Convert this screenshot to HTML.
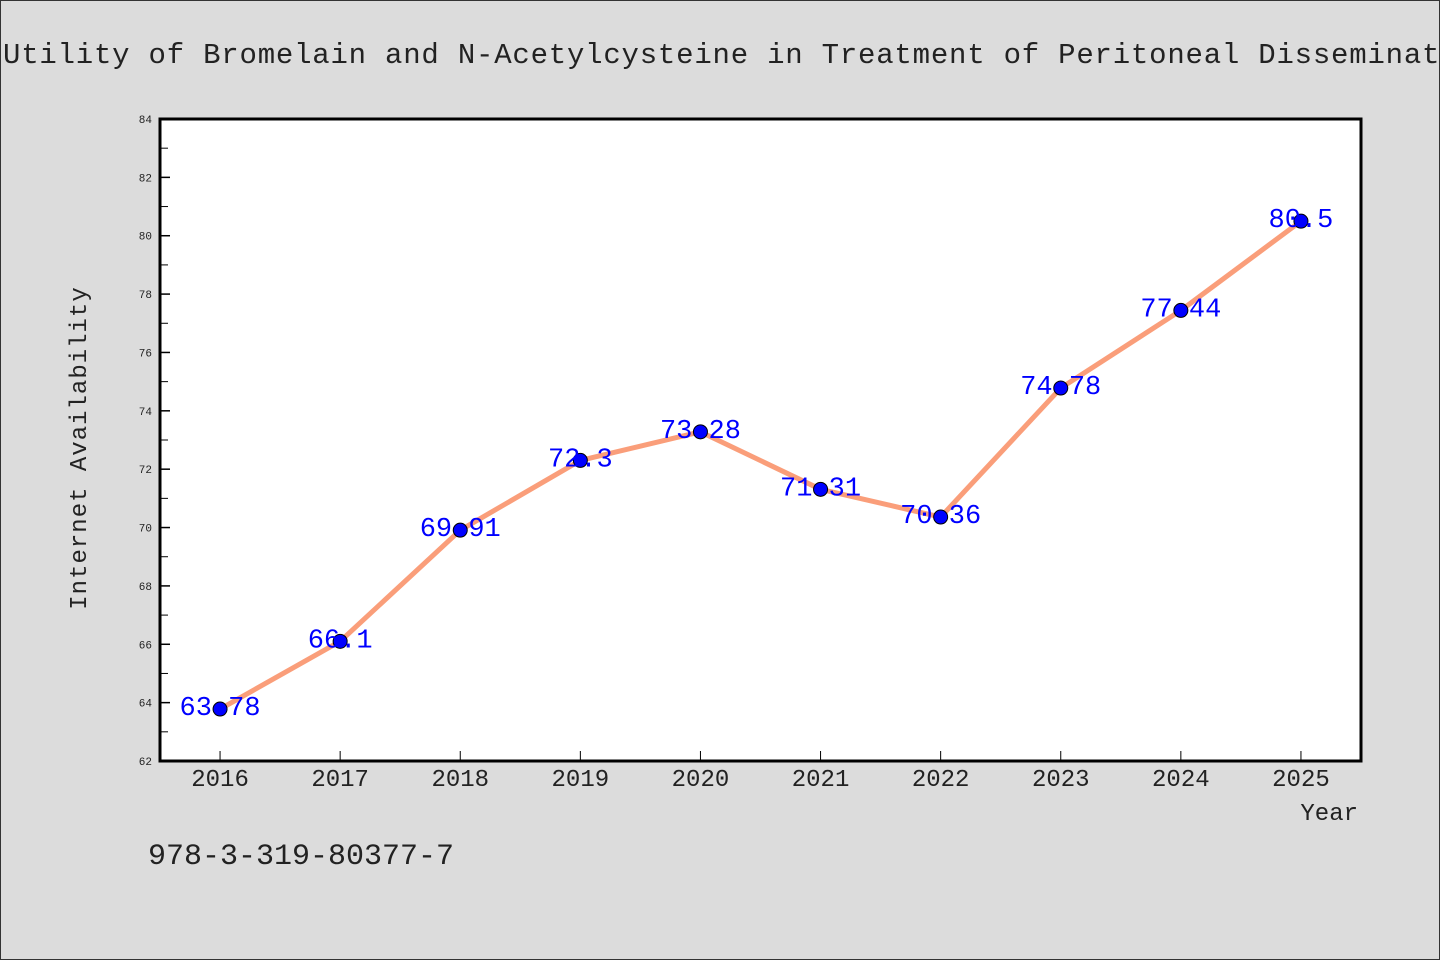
<!DOCTYPE html>
<html><head><meta charset="utf-8"><style>
html,body{margin:0;padding:0;background:#dcdcdc;}
svg{display:block;font-family:"WenQuanYi Zen Hei Mono","WenQuanYi Zen Hei","Liberation Mono",monospace;}
</style></head><body>
<svg id="chart" width="1440" height="960">
<rect x="0.5" y="0.5" width="1439" height="959" fill="#dcdcdc" stroke="#333"/>
<text x="3" y="63" font-size="29" fill="#222" textLength="1491" lengthAdjust="spacing">Utility of Bromelain and N-Acetylcysteine in Treatment of Peritoneal Dissemination</text>
<rect x="160" y="119" width="1201" height="642" fill="#fff"/>
<g id="axes"></g>
<g id="series"></g>
<rect x="160" y="119" width="1201" height="642" fill="none" stroke="#000" stroke-width="3"/>
<text x="86" y="448" font-size="24" fill="#222" text-anchor="middle" transform="rotate(-90 86 448)" letter-spacing="1">Internet Availability</text>
<text x="1358" y="820" font-size="24" fill="#222" text-anchor="end">Year</text>
<text x="148" y="864" font-size="30" fill="#222">978-3-319-80377-7</text>
</svg>
<script>
const years = [2016,2017,2018,2019,2020,2021,2022,2023,2024,2025];
const values = [63.78,66.1,69.91,72.3,73.28,71.31,70.36,74.78,77.44,80.5];
const labels = ["63.78","66.1","69.91","72.3","73.28","71.31","70.36","74.78","77.44","80.5"];
const yTicks = [62,64,66,68,70,72,74,76,78,80,82,84];
const NS="http://www.w3.org/2000/svg";
const X0=160,X1=1361,Y0=761,Y1=119;
const xs=v=>X0+(v-2015.5)/10*(X1-X0);
const ys=v=>Y0-(v-62)/22*(Y0-Y1);
function mk(tag,attrs,parent){const e=document.createElementNS(NS,tag);for(const k in attrs)e.setAttribute(k,attrs[k]);parent.appendChild(e);return e;}
const axes=document.getElementById('axes'),ser=document.getElementById('series');
yTicks.forEach(t=>{
 const y=ys(t);
 const l=mk('line',{x1:160,x2:170,y1:y,y2:y,stroke:'#000','stroke-width':1.5},axes);
 
 
 const tx=mk('text',{x:152,y:y+4,'font-size':11,fill:'#222','text-anchor':'end'},axes);
 tx.textContent=t;
 
 
 if(t<84){const m=ys(t+1);
 const ml=mk('line',{x1:160,x2:168,y1:m,y2:m,stroke:'#000','stroke-width':1},axes);
 
 }
});
years.forEach(yr=>{
 const x=xs(yr);
 const l=mk('line',{x1:x,x2:x,y1:761,y2:751,stroke:'#000','stroke-width':1},axes);
 
 
 const tx=mk('text',{x:x,y:786,'font-size':24,fill:'#222','text-anchor':'middle'},axes);
 tx.textContent=yr;
 
 
});
const pl=mk('polyline',{points:years.map((y,i)=>xs(y)+','+ys(values[i])).join(' '),fill:'none',stroke:'#fa9e7a','stroke-width':5,'stroke-linejoin':'round'},ser);


years.forEach((yr,i)=>{
 const c=mk('circle',{cx:xs(yr),cy:ys(values[i]),r:7,fill:'#0000ff',stroke:'#000','stroke-width':1},ser);
 
 
});
years.forEach((yr,i)=>{
 const t=mk('text',{x:xs(yr),y:ys(values[i])+6,'font-size':27,fill:'#0000ff','text-anchor':'middle'},ser);
 t.textContent=labels[i];
 
 
});
</script>
</body></html>
